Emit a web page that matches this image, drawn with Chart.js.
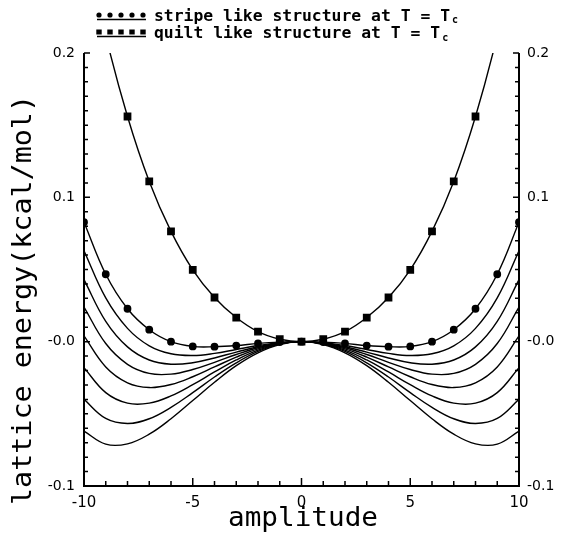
<!DOCTYPE html>
<html>
<head>
<meta charset="utf-8">
<script src="https://cdn.jsdelivr.net/npm/chart.js@4.4.0/dist/chart.umd.min.js"></script>
<style>
	html, body { margin: 0; padding: 0; background: #fff; }
	#wrap { width: 565px; height: 535px; }
</style>
</head>
<body>
<div id="wrap"><canvas id="chart" width="565" height="535"></canvas></div>
<script>
const amplitude = [-10, -9, -8, -7, -6, -5, -4, -3, -2, -1, 0, 1, 2, 3, 4, 5, 6, 7, 8, 9, 10];

// marked curves (legend)
const stripeTc = [0.0828, 0.0467, 0.0228, 0.0083, 0.0000, -0.0033, -0.0035, -0.0027, -0.0012, -0.0003, 0,
	-0.0003, -0.0012, -0.0027, -0.0035, -0.0033, 0.0000, 0.0083, 0.0228, 0.0467, 0.0828];
const quiltTc = [0.280, 0.212, 0.156, 0.111, 0.0764, 0.0498, 0.0306, 0.0167, 0.0069, 0.0017, 0,
	0.0017, 0.0069, 0.0167, 0.0306, 0.0498, 0.0764, 0.111, 0.156, 0.212, 0.280];

// unmarked curves, top to bottom
const curve1 = [0.063, 0.0303, 0.0092, -0.0029, -0.0084, -0.0096, -0.0081, -0.0054, -0.0027, -0.0007, 0,
	-0.0007, -0.0027, -0.0054, -0.0081, -0.0096, -0.0084, -0.0029, 0.0092, 0.0303, 0.063];
const curve2 = [0.043, 0.0141, -0.0036, -0.0127, -0.0156, -0.0146, -0.0113, -0.0072, -0.0035, -0.0009, 0,
	-0.0009, -0.0035, -0.0072, -0.0113, -0.0146, -0.0156, -0.0127, -0.0036, 0.0141, 0.043];
const curve3 = [0.024, -0.0013, -0.0157, -0.0220, -0.0225, -0.0193, -0.0143, -0.0089, -0.0042, -0.0011, 0,
	-0.0011, -0.0042, -0.0089, -0.0143, -0.0193, -0.0225, -0.0220, -0.0157, -0.0013, 0.024];
const curve4 = [0.004, -0.0175, -0.0285, -0.0318, -0.0297, -0.0243, -0.0175, -0.0107, -0.0050, -0.0013, 0,
	-0.0013, -0.0050, -0.0107, -0.0175, -0.0243, -0.0297, -0.0318, -0.0285, -0.0175, 0.004];
const curve5 = [-0.018, -0.0353, -0.0426, -0.0426, -0.0376, -0.0298, -0.0210, -0.0127, -0.0059, -0.0015, 0,
	-0.0015, -0.0059, -0.0127, -0.0210, -0.0298, -0.0376, -0.0426, -0.0426, -0.0353, -0.018];
const curve6 = [-0.040, -0.0532, -0.0567, -0.0534, -0.0455, -0.0353, -0.0245, -0.0147, -0.0068, -0.0017, 0,
	-0.0017, -0.0068, -0.0147, -0.0245, -0.0353, -0.0455, -0.0534, -0.0567, -0.0532, -0.040];
const curve7 = [-0.062, -0.0710, -0.0708, -0.0641, -0.0534, -0.0408, -0.0281, -0.0166, -0.0077, -0.0020, 0,
	-0.0020, -0.0077, -0.0166, -0.0281, -0.0408, -0.0534, -0.0641, -0.0708, -0.0710, -0.062];

const xTickText = ['-10', '-5', '0', '5', '10'];
const yTickText = ['-0.1', '-0.0', '0.1', '0.2'];
const legendText = ['stripe like structure at T = T', 'quilt like structure at T = T'];
const xTitle = 'amplitude';
const yTitle = 'lattice energy(kcal/mol)';

function toPoints(arr) {
	return amplitude.map((x, i) => ({ x: x, y: arr[i] }));
}

function plainLine(arr) {
	return {
		data: toPoints(arr),
		borderColor: '#000',
		borderWidth: 1.4,
		pointRadius: 0,
		tension: 0.4,
		yAxisID: 'y'
	};
}

// stretch text horizontally to a given width
function drawWide(ctx, text, x, y, width) {
	const w = ctx.measureText(text).width;
	ctx.save();
	ctx.translate(x, y);
	ctx.scale(width / w, 1);
	ctx.textAlign = 'left';
	ctx.fillText(text, 0, 0);
	ctx.restore();
}

const framePlugin = {
	id: 'frame',
	afterDatasetsDraw(chart) {
		const { ctx, chartArea: a, scales } = chart;
		ctx.save();
		ctx.strokeStyle = '#000';
		ctx.lineWidth = 2;
		ctx.beginPath();
		ctx.moveTo(a.left, a.top);
		ctx.lineTo(a.left, a.bottom);
		ctx.lineTo(a.right, a.bottom);
		ctx.lineTo(a.right, a.top);
		ctx.stroke();

		ctx.lineWidth = 1.5;
		ctx.beginPath();
		for (let i = -10; i <= 20; i++) {
			const py = scales.y.getPixelForValue(i / 100);
			const len = i % 10 === 0 ? 6 : 4;
			ctx.moveTo(a.left, py);
			ctx.lineTo(a.left + len, py);
			ctx.moveTo(a.right, py);
			ctx.lineTo(a.right - len, py);
		}
		for (let i = -10; i <= 10; i++) {
			const px = scales.x.getPixelForValue(i);
			const len = i % 5 === 0 ? 8 : 5;
			ctx.moveTo(px, a.bottom);
			ctx.lineTo(px, a.bottom - len);
		}
		ctx.stroke();
		ctx.restore();
	},
	afterDraw(chart) {
		const ctx = chart.ctx;
		ctx.save();
		ctx.fillStyle = '#000';
		ctx.strokeStyle = '#000';

		// legend samples
		const xs = [99, 110, 121, 132, 143];
		ctx.lineWidth = 1.5;
		ctx.beginPath();
		ctx.moveTo(97, 19.5); ctx.lineTo(146, 19.5);
		ctx.moveTo(97, 36.5); ctx.lineTo(146, 36.5);
		ctx.stroke();
		xs.forEach(x => {
			ctx.beginPath();
			ctx.arc(x, 15, 2.6, 0, Math.PI * 2);
			ctx.fill();
			ctx.fillRect(x - 2.7, 29.5, 5.4, 5);
		});

		// legend text
		ctx.font = 'bold 15px "DejaVu Sans Mono"';
		ctx.textBaseline = 'alphabetic';
		const w0 = ctx.measureText(legendText[0]).width;
		const k = 296 / w0;
		drawWide(ctx, legendText[0], 154, 21, 296);
		const w1 = ctx.measureText(legendText[1]).width * k;
		drawWide(ctx, legendText[1], 154, 38, w1);
		ctx.font = 'bold 10px "DejaVu Sans Mono"';
		ctx.fillText('c', 154 + 296 + 2, 23);
		ctx.fillText('c', 154 + w1 + 2, 41);

		// axis titles
		ctx.font = '26px "DejaVu Sans Mono"';
		ctx.textBaseline = 'alphabetic';
		drawWide(ctx, xTitle, 303 - 75, 526, 150);
		ctx.save();
		ctx.translate(31, 300);
		ctx.rotate(-Math.PI / 2);
		drawWide(ctx, yTitle, -205, 0, 410);
		ctx.restore();

		ctx.restore();
	}
};

new Chart(document.getElementById('chart'), {
	type: 'line',
	data: {
		datasets: [
			plainLine(curve1),
			plainLine(curve2),
			plainLine(curve3),
			plainLine(curve4),
			plainLine(curve5),
			plainLine(curve6),
			plainLine(curve7),
			{
				data: toPoints(stripeTc),
				borderColor: '#000',
				backgroundColor: '#000',
				borderWidth: 1.4,
				pointRadius: 3.2,
				pointStyle: 'circle',
				tension: 0.4,
				yAxisID: 'y'
			},
			{
				data: toPoints(quiltTc),
				borderColor: '#000',
				backgroundColor: '#000',
				borderWidth: 1.4,
				pointRadius: 4.5,
				pointStyle: 'rect',
				tension: 0.4,
				yAxisID: 'y'
			}
		]
	},
	options: {
		responsive: false,
		animation: false,
		devicePixelRatio: 1,
		layout: { padding: { top: 53, left: 0, right: 0, bottom: 0 } },
		plugins: {
			legend: { display: false },
			tooltip: { enabled: false }
		},
		scales: {
			x: {
				type: 'linear',
				min: -10,
				max: 10,
				afterFit: s => { s.height = 49; },
				grid: { display: false, drawTicks: false },
				border: { display: false },
				ticks: {
					stepSize: 5,
					padding: 8,
					color: '#000',
					font: { family: 'DejaVu Sans', size: 15 },
					callback: v => xTickText[Math.round(v / 5) + 2]
				}
			},
			y: {
				position: 'left',
				min: -0.1,
				max: 0.2,
				afterFit: s => { s.width = 84; },
				grid: { display: false, drawTicks: false },
				border: { display: false },
				ticks: {
					stepSize: 0.1,
					padding: 9,
					color: '#000',
					font: { family: 'DejaVu Sans', size: 14 },
					callback: v => yTickText[Math.round(v * 10) + 1]
				}
			},
			y2: {
				position: 'right',
				min: -0.1,
				max: 0.2,
				afterFit: s => { s.width = 46; },
				grid: { display: false, drawTicks: false },
				border: { display: false },
				ticks: {
					stepSize: 0.1,
					padding: 8,
					color: '#000',
					font: { family: 'DejaVu Sans', size: 14 },
					callback: v => yTickText[Math.round(v * 10) + 1]
				}
			}
		}
	},
	plugins: [framePlugin]
});
</script>
</body>
</html>
